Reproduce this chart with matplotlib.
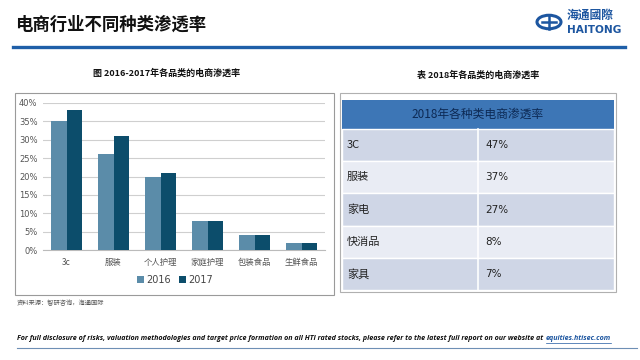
import matplotlib
matplotlib.use("Agg")
import matplotlib.pyplot as plt
from matplotlib.patches import Rectangle, Circle
from matplotlib.lines import Line2D
import numpy as np

plt.rcParams['font.family'] = ['Noto Sans CJK SC', 'DejaVu Sans']

# ---- data ----
categories = ["3c", "服装", "个人护理", "家庭护理", "包装食品", "生鲜食品"]
values_2016 = [0.35, 0.26, 0.20, 0.08, 0.04, 0.02]
values_2017 = [0.38, 0.31, 0.21, 0.08, 0.04, 0.02]
series_labels = ["2016", "2017"]
yticks = [0, 0.05, 0.10, 0.15, 0.20, 0.25, 0.30, 0.35, 0.40]

table_header = "2018年各种类电商渗透率"
table_cats = ["3C", "服装", "家电", "快消品", "家具"]
table_vals = ["47%", "37%", "27%", "8%", "7%"]

W, H = 640, 360
fig = plt.figure(figsize=(W / 100, H / 100), dpi=100)
fig.patch.set_facecolor("white")

def fx(x):
    return x / W

def fy(y):
    return 1 - y / H

def frect(x0, y0, x1, y1):
    return [fx(x0), fy(y1), (x1 - x0) / W, (y1 - y0) / H]

# ---- header ----
fig.text(fx(15), fy(25), "电商行业不同种类渗透率", fontsize=12.5, fontweight="bold",
         va="center", ha="left", color="#111111")
fig.add_artist(Line2D([fx(13), fx(625)], [fy(47), fy(47)], color="#1f5fa8", lw=2.4))

# logo
logo_blue = "#1d56a0"
fig.add_artist(Circle((fx(549), fy(22)), 12 / W, transform=fig.transFigure,
                      facecolor="none", edgecolor=logo_blue, lw=2.2))
fig.add_artist(Line2D([fx(542), fx(556)], [fy(22), fy(22)], color=logo_blue, lw=1.8))
fig.add_artist(Line2D([fx(549), fx(549)], [fy(15), fy(29)], color=logo_blue, lw=1.8))
fig.text(fx(567), fy(15), "海通國際", fontsize=8.5, color=logo_blue, va="center", ha="left",
         fontweight="bold")
fig.text(fx(567), fy(30), "HAITONG", fontsize=7.6, color=logo_blue, va="center", ha="left",
         fontweight="bold", family=["DejaVu Sans"])

# ---- left chart ----
fig.text(fx(167), fy(73), "图 2016-2017年各品类的电商渗透率", fontsize=6.5, fontweight="bold",
         ha="center", va="center", color="#111111")
fig.add_artist(Rectangle((fx(15), fy(295)), (334 - 15) / W, (295 - 93) / H,
                         transform=fig.transFigure, facecolor="none",
                         edgecolor="#9a9a9a", lw=0.8))

ax = fig.add_axes(frect(43, 103, 325, 250))
x = np.arange(len(categories))
bw = 0.34
c16, c17 = "#5b8ca9", "#0c4d6b"
ax.bar(x - bw / 2, values_2016, bw, color=c16, label=series_labels[0], zorder=3)
ax.bar(x + bw / 2, values_2017, bw, color=c17, label=series_labels[1], zorder=3)
ax.set_xlim(-0.5, len(categories) - 0.5)
ax.set_ylim(0, 0.4)
ax.set_yticks(yticks)
ax.set_yticklabels([f"{int(round(v * 100))}%" for v in yticks], fontsize=6,
                   color="#555555", family=["DejaVu Sans"])
ax.set_xticks(x)
ax.set_xticklabels(categories, fontsize=6, color="#555555")
ax.tick_params(axis="both", length=0, pad=6)
ax.tick_params(axis="y", pad=4)
ax.grid(axis="y", color="#cfcfcf", lw=0.8, zorder=0)
for s in ["top", "right", "left"]:
    ax.spines[s].set_visible(False)
ax.spines["bottom"].set_color("#bbbbbb")
ax.spines["bottom"].set_linewidth(0.8)
ax.set_facecolor("white")
leg = ax.legend(loc="center", bbox_to_anchor=(fx(175), fy(280)),
                bbox_transform=fig.transFigure, ncol=2, frameon=False,
                handlelength=0.7, handleheight=0.7, handletextpad=0.3,
                columnspacing=0.8, prop={"family": ["DejaVu Sans"], "size": 7})
for t in leg.get_texts():
    t.set_color("#444444")

# ---- right table ----
fig.text(fx(478), fy(75), "表 2018年各品类的电商渗透率", fontsize=6.5, fontweight="bold",
         ha="center", va="center", color="#111111")
fig.add_artist(Rectangle((fx(340), fy(292)), (616 - 340) / W, (292 - 93) / H,
                         transform=fig.transFigure, facecolor="white",
                         edgecolor="#b0b0b0", lw=0.8))
tx0, tx1, tmid = 342, 614, 478
header_top, header_bot = 100, 129
fig.add_artist(Rectangle((fx(tx0), fy(header_bot)), (tx1 - tx0) / W,
                         (header_bot - header_top) / H, transform=fig.transFigure,
                         facecolor="#3d76b6", edgecolor="none"))
fig.text(fx((tx0 + tx1) / 2), fy((header_top + header_bot) / 2), table_header,
         fontsize=8.5, ha="center", va="center", color="#0d2a55")
row_h = (290 - header_bot) / len(table_cats)
for i, (c, v) in enumerate(zip(table_cats, table_vals)):
    y0 = header_bot + i * row_h
    y1 = y0 + row_h
    col = "#cfd6e6" if i % 2 == 0 else "#e9ecf4"
    fig.add_artist(Rectangle((fx(tx0), fy(y1)), (tx1 - tx0) / W, row_h / H,
                             transform=fig.transFigure, facecolor=col,
                             edgecolor="white", lw=1.0))
    fig.text(fx(347), fy((y0 + y1) / 2), c, fontsize=8, ha="left", va="center",
             color="#222222")
    fig.text(fx(485), fy((y0 + y1) / 2), v, fontsize=7.5, ha="left", va="center",
             color="#222222", family=["DejaVu Sans"])
fig.add_artist(Line2D([fx(tmid), fx(tmid)], [fy(header_bot), fy(290)],
                      color="white", lw=1.2))

# ---- footer ----
fig.text(fx(17), fy(303), "资料来源：智研咨询，海通国际", fontsize=4.5, ha="left",
         va="center", color="#555555")
main = fig.text(fx(17), fy(338),
                "For full disclosure of risks, valuation methodologies and target price formation on all HTI rated stocks, please refer to the latest full report on our website at",
                fontsize=5.1, style="italic", fontweight="bold", ha="left", va="center",
                color="#111111", family=["Open Sans", "DejaVu Sans"])
fig.canvas.draw()
bb = main.get_window_extent(renderer=fig.canvas.get_renderer())
link_x = bb.x1 / W + 3 / W
link = fig.text(link_x, fy(338), "equities.htisec.com", fontsize=5.1, style="italic",
                fontweight="bold", ha="left", va="center", color="#1d56a0",
                family=["Open Sans", "DejaVu Sans"])
fig.canvas.draw()
lb = link.get_window_extent(renderer=fig.canvas.get_renderer())
fig.add_artist(Line2D([lb.x0 / W, lb.x1 / W], [fy(342.5), fy(342.5)], color="#1d56a0", lw=0.5))
fig.add_artist(Line2D([fx(17), fx(637)], [fy(348), fy(348)], color="#6e8fb5", lw=0.8))

fig.savefig("out.png", dpi=100, facecolor="white")
